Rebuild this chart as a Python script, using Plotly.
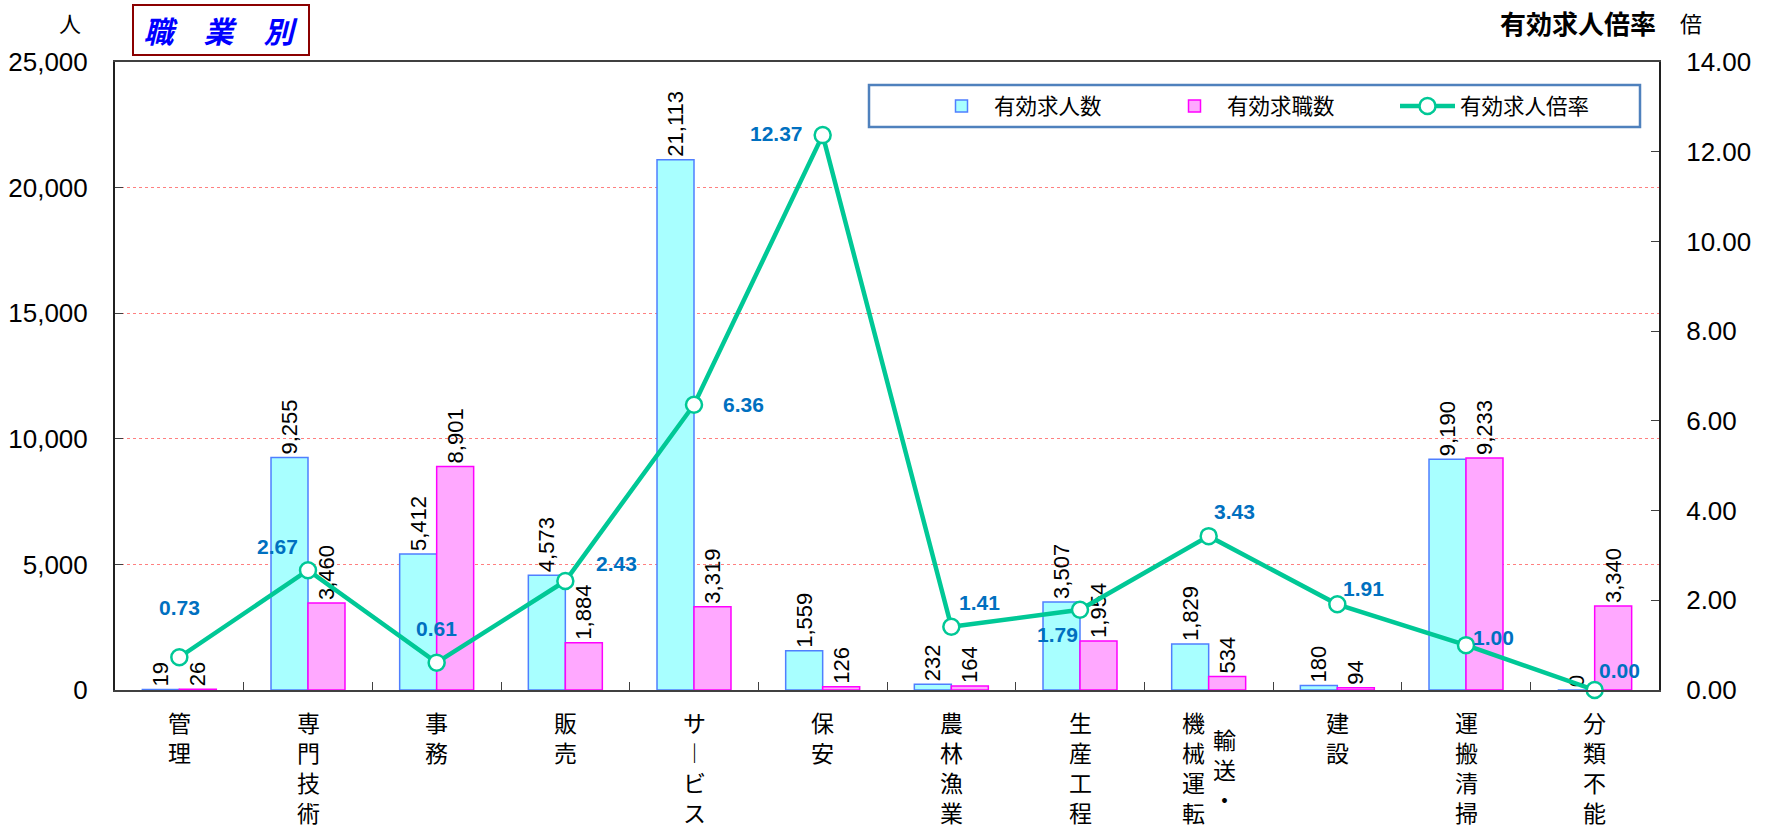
import plotly.graph_objects as go

# ---------------- data ----------------
categories = ["管理", "専門技術", "事務", "販売", "サービス", "保安", "農林漁業",
              "生産工程", "輸送・機械運転", "建設", "運搬清掃", "分類不能"]
job_offers = [19, 9255, 5412, 4573, 21113, 1559, 232, 3507, 1829, 180, 9190, 0]
job_seekers = [26, 3460, 8901, 1884, 3319, 126, 164, 1954, 534, 94, 9233, 3340]
offer_ratio = [0.73, 2.67, 0.61, 2.43, 6.36, 12.37, 1.41, 1.79, 3.43, 1.91, 1.00, 0.00]

series_names = ["有効求人数", "有効求職数", "有効求人倍率"]
left_unit = "人"
right_title = "有効求人倍率"
right_unit = "倍"
chart_title = "職　業　別"

# ---------------- style ----------------
W, H = 1775, 833
ML, MR, MT, MB = 115, 116, 62, 143
PW, PH = W - ML - MR, H - MT - MB
NUM_FONT = "Liberation Sans, Arial"
CJK_FONT = "Noto Sans CJK JP, Noto Sans, sans-serif"
GREEN = "#00C896"

# label offsets for ratio labels (pixels: right, down)
ratio_dx = [0, -31, 0, 51, 49, -46, 28, -23, 26, 26, 27, 25]
ratio_dy = [-50, -24, -34, -18, 0, -2, -24, 25, -25, -16, -8, -20]

# vertical text columns (right column first, as in vertical writing)
wrap_columns = {"輸送・機械運転": ["輸送・", "機械運転"]}


def px_x(px):
    return (px - ML) / PW


def px_y(py):
    return 1 - (py - MT) / PH


def vertical(s):
    return "<br>".join("︱" if c == "ー" else c for c in s)


fig = go.Figure()
fig.add_trace(go.Bar(
    x=categories, y=job_offers, name=series_names[0],
    marker=dict(color="#A8FFFF", line=dict(color="#4F7FFF", width=1.5)),
    text=[f"{v:,}" for v in job_offers], textposition="outside", textangle=-90,
    textfont=dict(size=22, family=NUM_FONT, color="black"),
    constraintext="none", cliponaxis=False,
))
fig.add_trace(go.Bar(
    x=categories, y=job_seekers, name=series_names[1],
    marker=dict(color="#FFA8FF", line=dict(color="#FF00FF", width=1.5)),
    text=[f"{v:,}" for v in job_seekers], textposition="outside", textangle=-90,
    textfont=dict(size=22, family=NUM_FONT, color="black"),
    constraintext="none", cliponaxis=False,
))
fig.add_trace(go.Scatter(
    x=categories, y=offer_ratio, name=series_names[2], yaxis="y2",
    mode="lines+markers",
    line=dict(color=GREEN, width=4.5),
    marker=dict(size=16, color="white", line=dict(color=GREEN, width=2.5)),
    cliponaxis=False,
))

annotations = []
for i, (c, r) in enumerate(zip(categories, offer_ratio)):
    annotations.append(dict(
        x=c, y=r, xref="x", yref="y2", text=f"{r:.2f}", showarrow=False,
        xanchor="center", yanchor="middle",
        xshift=ratio_dx[i], yshift=-ratio_dy[i],
        font=dict(size=21, family=NUM_FONT, color="#0070C0", weight="bold"),
    ))

# category labels (vertical)
for c in categories:
    cols = wrap_columns.get(c, [c])
    n = len(cols)
    for j, col in enumerate(cols):
        xshift = 0 if n == 1 else (16 if j == 0 else -15)
        yshift = -13 if (n == 1 or j == 1) else -30
        annotations.append(dict(
            x=c, y=0, xref="x", yref="paper", yanchor="top", xanchor="center",
            text=vertical(col), showarrow=False, xshift=xshift, yshift=yshift,
            font=dict(size=23, family=CJK_FONT, color="black"),
        ))

annotations += [
    dict(x=px_x(70), y=px_y(22), xref="paper", yref="paper", text=left_unit,
         xanchor="center", yanchor="middle",
         showarrow=False, font=dict(size=22, family=CJK_FONT, color="black")),
    dict(x=px_x(1578), y=px_y(22), xref="paper", yref="paper", text=right_title,
         xanchor="center", yanchor="middle",
         showarrow=False, font=dict(size=26, family=CJK_FONT, color="black", weight="bold")),
    dict(x=px_x(1691), y=px_y(22), xref="paper", yref="paper", text=right_unit,
         xanchor="center", yanchor="middle",
         showarrow=False, font=dict(size=22, family=CJK_FONT, color="black")),
    dict(x=px_x(221), y=px_y(30), xref="paper", yref="paper", text=chart_title,
         xanchor="center", yanchor="middle",
         showarrow=False, bordercolor="#8B0000", borderwidth=2, borderpad=3,
         width=168, height=42, bgcolor="white",
         font=dict(size=30, family=CJK_FONT, color="#0000FF", weight="bold", style="italic")),
]

shapes = [dict(type="rect", xref="paper", yref="paper",
               x0=px_x(869), x1=px_x(1640), y0=px_y(127), y1=px_y(85),
               line=dict(color="#4F81BD", width=2.5), fillcolor="white", layer="below")]

fig.update_layout(
    width=W, height=H,
    margin=dict(l=ML, r=MR, t=MT, b=MB, autoexpand=False),
    paper_bgcolor="white", plot_bgcolor="rgba(0,0,0,0)",
    barmode="group", bargap=0.425, bargroupgap=0,
    showlegend=True,
    legend=dict(orientation="h", x=px_x(929), y=px_y(106), xanchor="left", yanchor="middle",
                bgcolor="rgba(0,0,0,0)", borderwidth=0,
                font=dict(size=21.5, family=CJK_FONT, color="black"),
                entrywidth=163, entrywidthmode="pixels", itemwidth=55),
    xaxis=dict(type="category", range=[-0.5, len(categories) - 0.5],
               tickson="boundaries", ticks="inside", ticklen=8,
               tickcolor="#404040", showline=True, linecolor="#404040", linewidth=2,
               mirror=True, showticklabels=False, showgrid=False, zeroline=False,
               automargin=False),
    yaxis=dict(range=[0, 25000], dtick=5000, tickformat=",d", ticks="inside", ticklen=8,
               tickcolor="#404040", showline=True, linecolor="#202020", linewidth=2,
               showgrid=True, gridcolor="#FF8080", griddash="dot", gridwidth=1,
               zeroline=False, ticklabelstandoff=20, automargin=False,
               tickfont=dict(size=26, family=NUM_FONT, color="black")),
    yaxis2=dict(range=[0, 14], dtick=2, tickformat=".2f", overlaying="y", side="right",
                ticks="inside", ticklen=8, tickcolor="#404040", showline=True,
                linecolor="#202020", linewidth=2, showgrid=False, zeroline=False,
                ticklabelstandoff=20, automargin=False,
                tickfont=dict(size=26, family=NUM_FONT, color="black")),
    annotations=annotations,
    shapes=shapes,
)

fig.write_html("out.html", config={"displayModeBar": False},
               post_script="document.body.style.margin='0px';")
